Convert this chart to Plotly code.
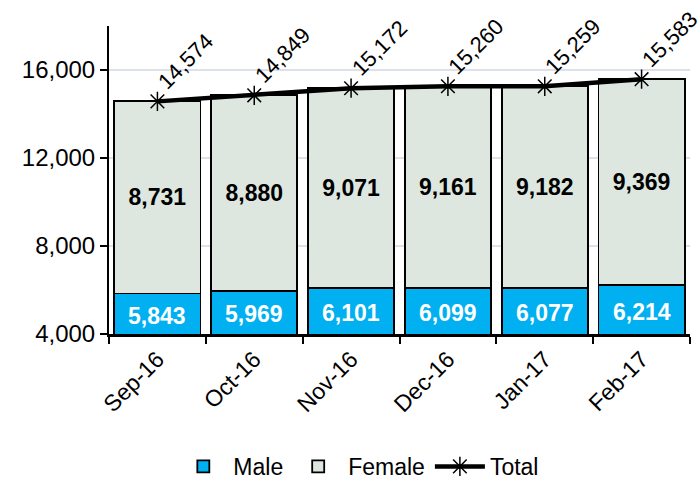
import plotly.graph_objects as go

months = ["Sep-16", "Oct-16", "Nov-16", "Dec-16", "Jan-17", "Feb-17"]
male = [5843, 5969, 6101, 6099, 6077, 6214]
female = [8731, 8880, 9071, 9161, 9182, 9369]
total = [14574, 14849, 15172, 15260, 15259, 15583]
y_ticks = [4000, 8000, 12000, 16000]
y_min, y_max = 4000, 18000

FONT = "Liberation Sans, Arial, sans-serif"

fig = go.Figure()
fig.add_trace(go.Bar(
    x=months, y=male, name="Male",
    marker=dict(color="#00B0F0", line=dict(color="black", width=1.8)),
    textposition="none",
))
fig.add_trace(go.Bar(
    x=months, y=female, name="Female",
    marker=dict(color="#DDE7DF", line=dict(color="black", width=1.8)),
    text=[f"{v:,}" for v in female], textposition="inside",
    insidetextanchor="middle",
    textfont=dict(family=FONT, size=23, color="black", weight="bold"),
))
fig.add_trace(go.Scatter(
    x=months, y=total, name="Total", mode="lines+markers",
    line=dict(color="black", width=4.5),
    marker=dict(symbol="asterisk-open", size=16, color="black",
                line=dict(color="black", width=1.5)),
))

for m, v in zip(months, male):
    fig.add_annotation(x=m, y=(y_min + v) / 2, text=f"<b>{v:,}</b>", showarrow=False,
                       yshift=-2, font=dict(family=FONT, size=23, color="white"))
for m, v in zip(months, total):
    fig.add_annotation(x=m, y=v, text=f"{v:,}", showarrow=False, textangle=-45,
                       xshift=28, yshift=40,
                       font=dict(family=FONT, size=22, color="black"))

fig.update_layout(
    width=700, height=483,
    barmode="stack", bargap=0.11,
    plot_bgcolor="white", paper_bgcolor="white",
    margin=dict(l=109, r=10, t=26, b=149, pad=0, autoexpand=False),
    font=dict(family=FONT, size=23, color="black"),
    showlegend=True,
    legend=dict(orientation="h", x=0.43, xanchor="center", y=-0.43, yanchor="middle",
                font=dict(family=FONT, size=23), itemwidth=50, traceorder="normal"),
    xaxis=dict(range=[-0.5, len(months) - 0.5],
               showline=True, linecolor="black", linewidth=2.5, ticks="outside",
               tickson="boundaries", ticklen=7, tickwidth=2, tickcolor="black",
               tickangle=-45, tickfont=dict(family=FONT, size=23), automargin=False),
    yaxis=dict(range=[y_min, y_max], tickvals=y_ticks, tickformat=",",
               showline=True, linecolor="black", linewidth=2, ticks="outside",
               ticklen=7, tickwidth=2, tickcolor="black", showgrid=True,
               gridcolor="#DCE1EA", gridwidth=1.5, zeroline=False,
               tickfont=dict(family=FONT, size=24), automargin=False),
)

post = ("document.body.style.margin='0px';"
        "document.body.style.overflow='hidden';"
        "document.documentElement.style.overflow='hidden';")
fig.write_html("out.html", post_script=post, config={"displayModeBar": False})
